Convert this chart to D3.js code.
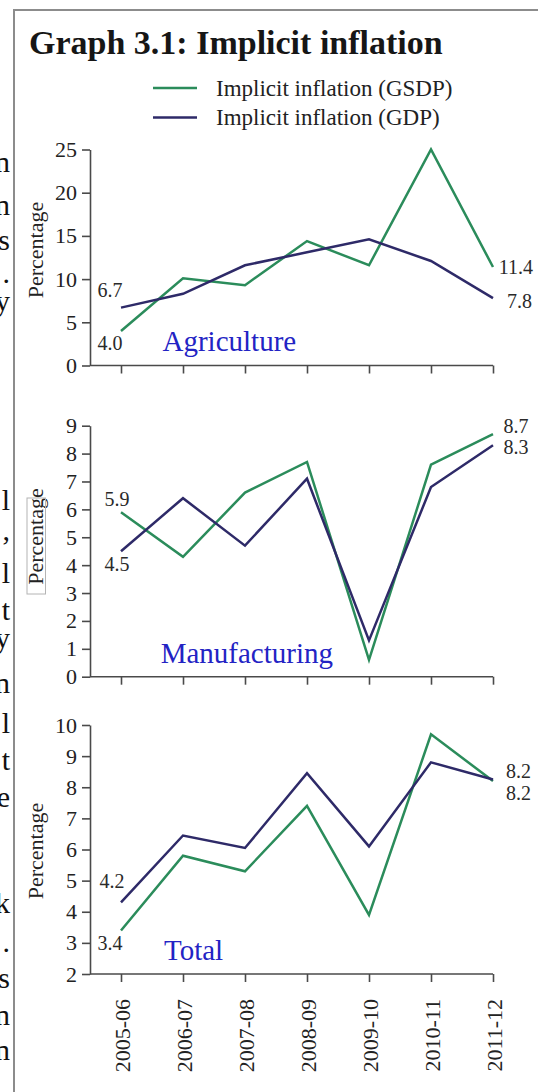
<!DOCTYPE html>
<html>
<head>
<meta charset="utf-8">
<script src="https://cdnjs.cloudflare.com/ajax/libs/d3/7.8.5/d3.min.js"></script>
<style>
  html, body { margin: 0; padding: 0; background: #fff; }
  svg { display: block; }
  text { font-family: "Liberation Serif", "DejaVu Serif", serif; }
</style>
</head>
<body>
<div id="chart"></div>
<script>
// ---------------- DATA ----------------
const categories = ["2005-06", "2006-07", "2007-08", "2008-09", "2009-10", "2010-11", "2011-12"];
const seriesNames = ["Implicit inflation (GSDP)", "Implicit inflation (GDP)"];

const agriGSDP = [4.0, 10.1, 9.3, 14.4, 11.6, 25.0, 11.4];
const agriGDP  = [6.7, 8.3, 11.6, 13.1, 14.6, 12.1, 7.8];

const manuGSDP = [5.9, 4.3, 6.6, 7.7, 0.6, 7.6, 8.7];
const manuGDP  = [4.5, 6.4, 4.7, 7.1, 1.3, 6.8, 8.3];

const totalGSDP = [3.4, 5.8, 5.3, 7.4, 3.9, 9.7, 8.2];
const totalGDP  = [4.3, 6.45, 6.05, 8.45, 6.1, 8.8, 8.25];

const agriTicks  = [0, 5, 10, 15, 20, 25];
const manuTicks  = [0, 1, 2, 3, 4, 5, 6, 7, 8, 9];
const totalTicks = [2, 3, 4, 5, 6, 7, 8, 9, 10];

const panelNames = ["Agriculture", "Manufacturing", "Total"];

// end-point value labels: [series (0=GSDP,1=GDP), index, text]
const agriLabels  = [[1, 0, "6.7"], [0, 0, "4.0"], [0, 6, "11.4"], [1, 6, "7.8"]];
const manuLabels  = [[0, 0, "5.9"], [1, 0, "4.5"], [0, 6, "8.7"], [1, 6, "8.3"]];
const totalLabels = [[1, 0, "4.2"], [0, 0, "3.4"], [1, 6, "8.2"], [0, 6, "8.2"]];

// clipped text from the neighbouring page column
const marginFragments = [["n",172],["n",215],["s",250],[".",283],["y",311],["l",510],[",",540],
  ["l",583],["t",620],["y",648],["n",693],["l",733],["t",770],["e",807],["k",913],[".",952],
  ["s",988],["n",1025],["n",1060]];

// ---------------- LAYOUT / STYLE ----------------
const W = 538, H = 1092;
const GREEN = "#2b8c5b", NAVY = "#2e2a68", LABELBLUE = "#2323c4", AXIS = "#4a4a4a";
const axisX = 90;

const svg = d3.select("#chart").append("svg").attr("width", W).attr("height", H);
svg.append("rect").attr("width", W).attr("height", H).attr("fill", "#fff");

// margin fragments
svg.append("g").selectAll("text").data(marginFragments).join("text")
  .attr("x", 10).attr("y", d => d[1]).attr("text-anchor", "end")
  .attr("font-size", 30).attr("fill", "#111").text(d => d[0]);

// frame
svg.append("path").attr("d", `M14,${H} V10 H${W}`).attr("fill", "none")
  .attr("stroke", "#8c8c8c").attr("stroke-width", 2);

// title
svg.append("text").attr("x", 29).attr("y", 53.5).attr("font-size", 34).attr("font-weight", "bold")
  .attr("fill", "#161616").text("Graph 3.1: Implicit inflation");

// legend
const legend = svg.append("g");
[GREEN, NAVY].forEach((c, i) => {
  const y = 88 + i * 29.5;
  legend.append("line").attr("x1", 153).attr("x2", 197).attr("y1", y).attr("y2", y)
    .attr("stroke", c).attr("stroke-width", 2.5);
  legend.append("text").attr("x", 216).attr("y", y + 7.5).attr("font-size", 23)
    .attr("fill", "#222").text(seriesNames[i]);
});

const xs = d3.scalePoint().domain(categories).range([axisX, 524]).padding(0.5);

const panels = [
  { name: panelNames[0], gsdp: agriGSDP, gdp: agriGDP, ticks: agriTicks, top: 149.5, bottom: 365.5,
    title: [162.5, 350.7], pct: 250, labels: agriLabels,
    off: [[-23.5, -11, "start"], [-23.5, 19, "start"], [40, 7, "end"], [39, 10, "end"]] },
  { name: panelNames[1], gsdp: manuGSDP, gdp: manuGDP, ticks: manuTicks, top: 425.7, bottom: 676.7,
    title: [160.7, 663.3], pct: 536.5, labels: manuLabels, box: true,
    off: [[-16.5, -6, "start"], [-16.5, 19.5, "start"], [35.5, -1, "end"], [35.5, 9, "end"]] },
  { name: panelNames[2], gsdp: totalGSDP, gdp: totalGDP, ticks: totalTicks, top: 725, bottom: 974,
    title: [164, 960], pct: 851, labels: totalLabels, xlabels: true,
    off: [[-21.5, -14, "start"], [-23.5, 20, "start"], [38, -1.5, "end"], [38, 19, "end"]] }
];

panels.forEach(p => {
  const ys = d3.scaleLinear().domain([p.ticks[0], p.ticks[p.ticks.length - 1]]).range([p.bottom, p.top]);
  const g = svg.append("g");

  // y axis
  const ya = g.append("g").attr("transform", `translate(${axisX},0)`)
    .call(d3.axisLeft(ys).tickValues(p.ticks).tickFormat(d3.format("d")).tickSize(8).tickSizeOuter(0).tickPadding(5));
  ya.select(".domain").attr("stroke", AXIS).attr("stroke-width", 1.6);
  ya.selectAll(".tick line").attr("stroke", AXIS).attr("stroke-width", 1.6);
  ya.selectAll(".tick text").attr("font-size", 22).attr("fill", "#222")
    .attr("font-family", "Liberation Serif, serif");

  // x axis
  const xa = g.append("g").attr("transform", `translate(0,${p.bottom})`)
    .call(d3.axisBottom(xs).tickSize(8).tickSizeOuter(0));
  xa.select(".domain").remove();
  xa.selectAll(".tick line").attr("stroke", AXIS).attr("stroke-width", 1.6);
  xa.append("line").attr("x1", axisX).attr("x2", xs(categories[categories.length - 1]))
    .attr("y1", 0).attr("y2", 0).attr("stroke", AXIS).attr("stroke-width", 1.6);
  if (p.xlabels) {
    xa.selectAll(".tick text").attr("transform", "rotate(-90)")
      .attr("x", -25).attr("y", 0).attr("dy", "0.4em").attr("text-anchor", "end")
      .attr("font-size", 22).attr("fill", "#222").attr("font-family", "Liberation Serif, serif");
  } else {
    xa.selectAll(".tick text").remove();
  }

  // y axis title
  g.append("text").attr("transform", `translate(43,${p.pct}) rotate(-90)`)
    .attr("text-anchor", "middle").attr("font-size", 22).attr("fill", "#222").text("Percentage");
  if (p.box) {
    g.append("rect").attr("x", 27).attr("y", p.pct - 38.5).attr("width", 18.5).attr("height", 96)
      .attr("fill", "none").attr("stroke", "#b4b4b4").attr("stroke-width", 1);
  }

  // lines
  const line = d3.line().x((d, i) => xs(categories[i])).y(d => ys(d));
  [[p.gsdp, GREEN], [p.gdp, NAVY]].forEach(([vals, c]) => {
    g.append("path").datum(vals).attr("d", line).attr("fill", "none")
      .attr("stroke", c).attr("stroke-width", 2.5).attr("stroke-linejoin", "miter");
  });

  // value labels
  p.labels.forEach((l, k) => {
    const vals = l[0] === 0 ? p.gsdp : p.gdp;
    const o = p.off[k];
    g.append("text").attr("x", xs(categories[l[1]]) + o[0]).attr("y", ys(vals[l[1]]) + o[1])
      .attr("text-anchor", o[2]).attr("font-size", 20).attr("fill", "#2a2a2a").text(l[2]);
  });

  // panel title
  g.append("text").attr("x", p.title[0]).attr("y", p.title[1]).attr("font-size", 29)
    .attr("fill", LABELBLUE).text(p.name);
});
</script>
</body>
</html>
